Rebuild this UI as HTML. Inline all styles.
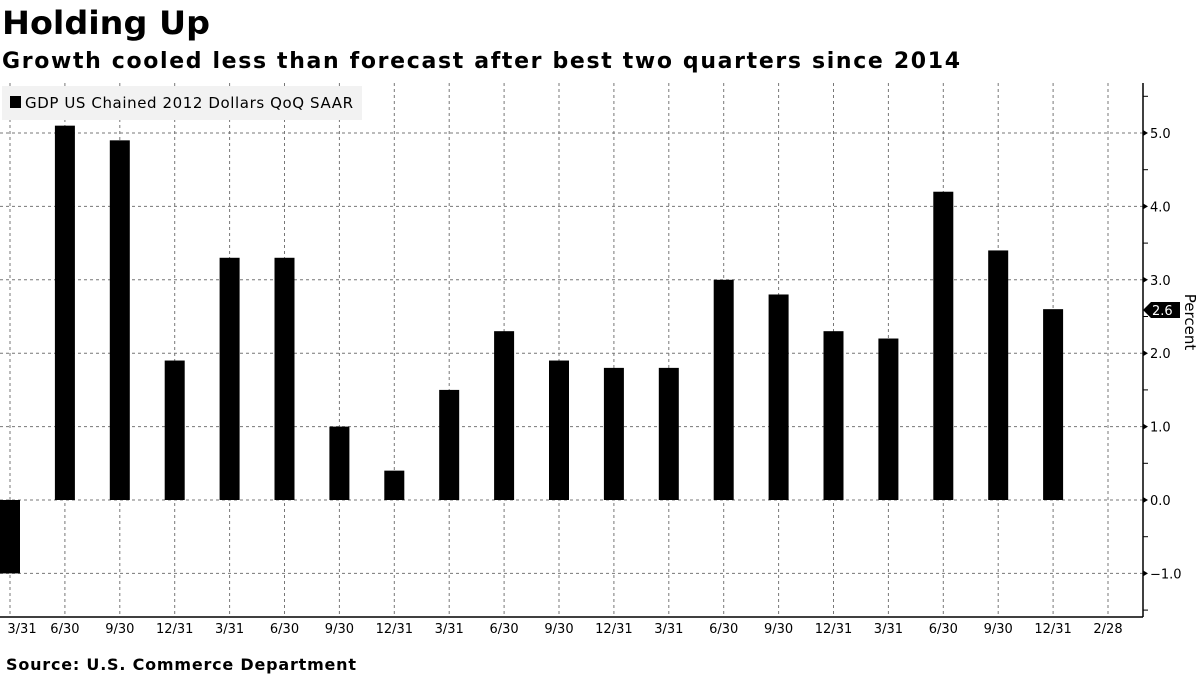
<!DOCTYPE html>
<html><head><style>
body{margin:0;background:#fff;}
svg text{font-family:"DejaVu Sans","Liberation Sans",sans-serif;}
</style></head><body>
<svg width="1200" height="675" xmlns="http://www.w3.org/2000/svg">
<rect width="1200" height="675" fill="#fff"/>
<text x="2" y="34" font-size="32" font-weight="bold" fill="#000" textLength="208" lengthAdjust="spacingAndGlyphs">Holding Up</text>
<text x="2" y="68" font-size="22" font-weight="bold" fill="#000" textLength="958" lengthAdjust="spacing">Growth cooled less than forecast after best two quarters since 2014</text>
<g id="grid" stroke="#777" stroke-width="1" stroke-dasharray="3,3"></g>
<g id="bars"></g>
<rect x="2" y="86" width="360" height="34" fill="#f2f2f2"/>
<rect x="10" y="96" width="11" height="12" fill="#000"/>
<text x="25" y="108" font-size="15" fill="#000" textLength="328" lengthAdjust="spacing">GDP US Chained 2012 Dollars QoQ SAAR</text>
<line x1="1143" y1="83" x2="1143" y2="617" stroke="#000" stroke-width="1.5"/>
<line x1="0" y1="617" x2="1143" y2="617" stroke="#000" stroke-width="1.5"/>
<g id="yax"></g>
<g id="xl"></g>
<path d="M1143,310 L1151,302 L1180,302 L1180,318 L1151,318 Z" fill="#000"/>
<text x="1152" y="315" font-size="13" fill="#fff">2.6</text>
<text transform="translate(1185,322) rotate(90)" font-size="15" fill="#000" text-anchor="middle">Percent</text>
<text x="6" y="670" font-size="16" font-weight="bold" fill="#000" textLength="350" lengthAdjust="spacing">Source: U.S. Commerce Department</text>
</svg>
<script>
var ns="http://www.w3.org/2000/svg";
function el(p,t,a,txt){var e=document.createElementNS(ns,t);for(var k in a)e.setAttribute(k,a[k]);if(txt)e.textContent=txt;document.getElementById(p).appendChild(e);}
function Y(v){return 500-v*73.4;}
var vals=[-1.0,5.1,4.9,1.9,3.3,3.3,1.0,0.4,1.5,2.3,1.9,1.8,1.8,3.0,2.8,2.3,2.2,4.2,3.4,2.6];
var labs=["3/31","6/30","9/30","12/31","3/31","6/30","9/30","12/31","3/31","6/30","9/30","12/31","3/31","6/30","9/30","12/31","3/31","6/30","9/30","12/31","2/28"];
for(var i=0;i<21;i++){var x=10+i*54.9;
 el("grid","line",{x1:x,y1:83,x2:x,y2:617});
 el("xl","text",{x:(i==0?22:x),y:633,"font-size":13,"text-anchor":"middle",fill:"#000"},labs[i]);
}
for(var v=-1;v<=5;v++){el("grid","line",{x1:0,y1:Y(v),x2:1143,y2:Y(v)});
 el("yax","text",{x:1150,y:Y(v)+5,"font-size":13,fill:"#000"},v.toFixed(1).replace("-","\u2212"));
 el("yax","path",{d:"M1143,"+(Y(v)-3)+" L1148,"+Y(v)+" L1143,"+(Y(v)+3)+"Z",fill:"#000"});}
for(var v=-1.5;v<=5.5;v+=1){el("yax","line",{x1:1143,y1:Y(v),x2:1148,y2:Y(v),stroke:"#000"});}
vals.forEach(function(v,i){var x=10+i*54.9;var y0=Y(Math.max(v,0)),h=Math.abs(v)*73.4;
 el("bars","rect",{x:x-10,y:y0,width:20,height:h,fill:"#000"});});
</script>
</body></html>
